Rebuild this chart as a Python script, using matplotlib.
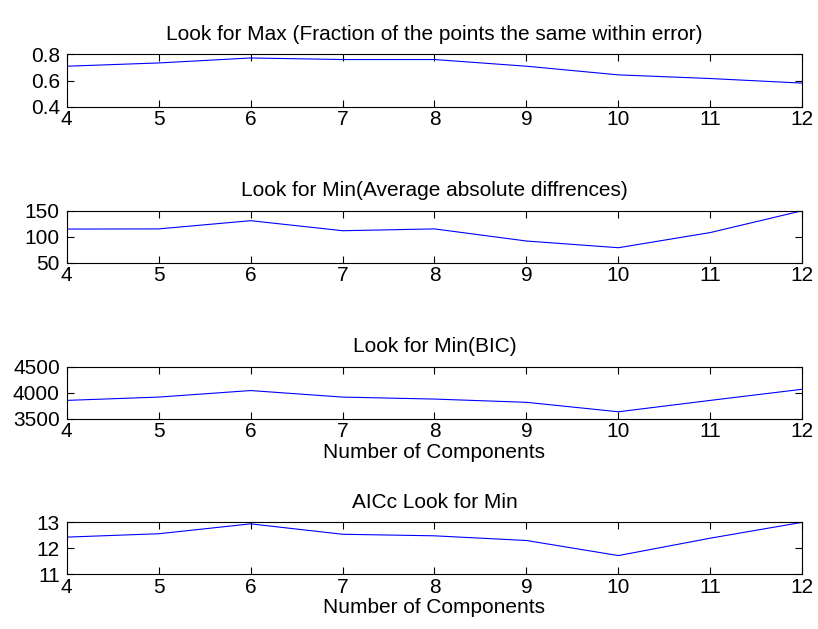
import numpy as np
import matplotlib
matplotlib.use('Agg')
import matplotlib.pyplot as plt

# %% Data
n_components = [4, 5, 6, 7, 8, 9, 10, 11, 12]

frac_same = [0.709, 0.734, 0.772, 0.760, 0.760, 0.709, 0.643, 0.615, 0.580]
avg_abs_diff = [114.7, 115.0, 130.8, 111.5, 115.0, 91.7, 78.8, 108.0, 150.0]
bic = [3856, 3919, 4044, 3919, 3881, 3819, 3638, 3856, 4069]
aicc = [12.43, 12.56, 12.94, 12.54, 12.48, 12.30, 11.72, 12.39, 13.0]

titles = ['Look for Max (Fraction of the points the same within error)',
          'Look for Min(Average absolute diffrences)',
          'Look for Min(BIC)',
          'AICc Look for Min']
series = [frac_same, avg_abs_diff, bic, aicc]
ylims = [(0.4, 0.8), (50, 150), (3500, 4500), (11, 13)]
yticks = [[0.4, 0.6, 0.8], [50, 100, 150], [3500, 4000, 4500], [11, 12, 13]]
xlabels = [None, None, 'Number of Components', 'Number of Components']

plt.rcParams['font.family'] = ['Liberation Sans', 'DejaVu Sans']
fs = 15

W, H = 818, 629
fig = plt.figure(figsize=(W / 100, H / 100), dpi=100)

left_px, right_px = 66.7, 802.3
rows_px = [(54.3, 106.7), (210.7, 262.7), (366.7, 419.0), (522.3, 574.3)]

for k in range(4):
    top, bot = rows_px[k]
    ax = fig.add_axes([left_px / W, 1 - bot / H, (right_px - left_px) / W, (bot - top) / H])
    ax.plot(n_components, series[k], color=(0, 0, 1), linewidth=0.8)
    ax.set_xlim(4, 12)
    ax.set_ylim(*ylims[k])
    ax.set_xticks(n_components)
    ax.set_yticks(yticks[k])
    ax.tick_params(direction='in', top=True, right=True, length=5, width=0.8,
                   labelsize=fs)
    ax.tick_params(axis='x', pad=2.5)
    ax.tick_params(axis='y', pad=5)
    for s in ax.spines.values():
        s.set_linewidth(0.8)
    ax.set_title(titles[k], fontsize=fs, pad=10.5)
    if xlabels[k]:
        ax.set_xlabel(xlabels[k], fontsize=fs, labelpad=1)

fig.savefig('out.png', dpi=100)
